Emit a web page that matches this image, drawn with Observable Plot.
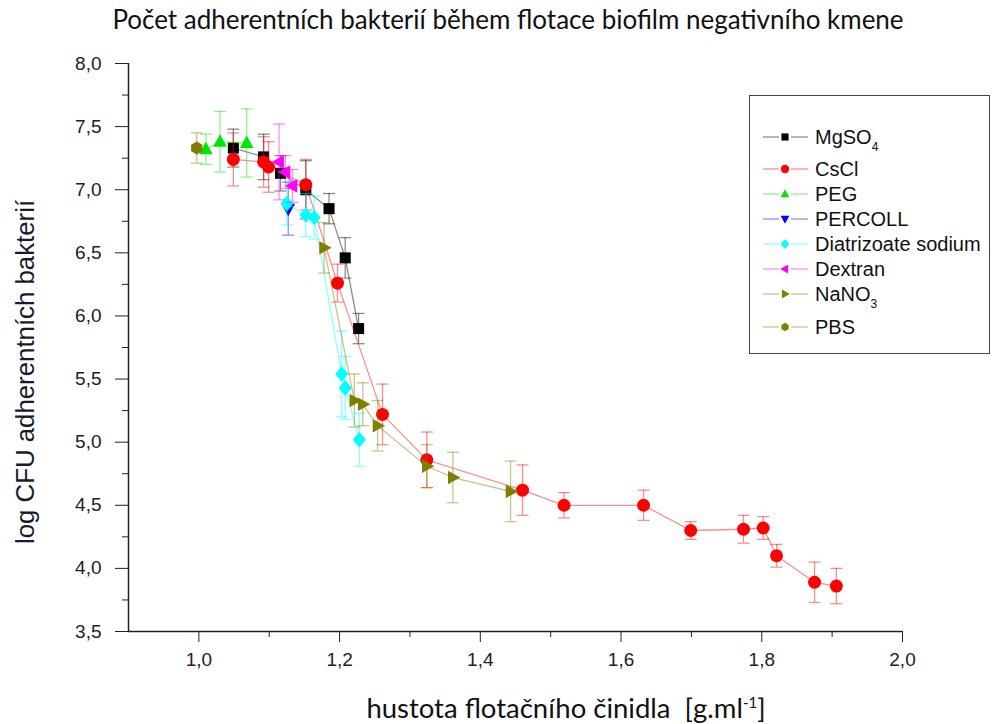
<!DOCTYPE html>
<html><head><meta charset="utf-8">
<script src="https://cdn.jsdelivr.net/npm/d3@7"></script>
<script src="https://cdn.jsdelivr.net/npm/@observablehq/plot@0.6"></script>
<style>
body{margin:0;background:#fff;}
#wrap{position:relative;width:992px;height:724px;overflow:hidden;background:#fff;}
#title{position:absolute;left:0;top:3px;width:1016px;text-align:center;font-family:Lato,sans-serif;font-size:26px;line-height:32px;color:#111;white-space:nowrap;}
#chart{position:absolute;left:0;top:40px;}
#xlabel{position:absolute;left:0;top:691px;width:1132px;text-align:center;font-family:Lato,sans-serif;font-size:27.5px;line-height:34px;color:#111;white-space:nowrap;}
#ylabel{position:absolute;left:25px;top:372px;transform:translate(-50%,-50%) rotate(-90deg);font-family:"Liberation Sans",Arial,sans-serif;font-size:25.8px;color:#1a1a2e;white-space:nowrap;}
#legend{position:absolute;left:749px;top:95px;width:241px;height:259px;border:1.5px solid #444;box-sizing:border-box;font-family:"Liberation Sans",Arial,sans-serif;font-size:20px;color:#111;}
.row{position:absolute;left:0;height:24px;width:236px;}
.row svg{position:absolute;left:12px;top:0;}
.row span{position:absolute;left:65px;top:0px;line-height:24px;white-space:nowrap;}
sub{font-size:12px;vertical-align:-7px;line-height:0;}
sup{font-size:15px;vertical-align:10px;line-height:0;}
</style></head><body>
<div id="wrap">
<div id="title">Počet adherentních bakterií během flotace biofilm negativního kmene</div>
<div id="chart"></div>
<div id="xlabel">hustota flotačního činidla&nbsp;&nbsp;[g.ml<sup>-1</sup>]</div>
<div id="ylabel">log CFU adherentních bakterií</div>
<div id="legend"></div>
</div>
<script>
// ---- data ----
const seriesNames = ["MgSO4","CsCl","PEG","PERCOLL","Diatrizoate sodium","Dextran","NaNO3","PBS"];
const legendLabels = ["MgSO<sub>4</sub>","CsCl","PEG","PERCOLL","Diatrizoate sodium","Dextran","NaNO<sub>3</sub>","PBS"];
const seriesColors = ["#000000","#ff0000","#00e600","#0000ff","#00ffff","#ff00ff","#808000","#808000"];

const mgso4X = [1.049, 1.092, 1.116, 1.152, 1.185, 1.208, 1.227];
const mgso4Y = [7.33, 7.26, 7.13, 7.00, 6.85, 6.46, 5.90];
const mgso4E = [0.15, 0.18, 0.14, 0.23, 0.12, 0.16, 0.12];

const csclX = [1.049, 1.092, 1.099, 1.152, 1.197, 1.261, 1.324, 1.460, 1.519, 1.632, 1.699, 1.774, 1.802, 1.821, 1.875, 1.906];
const csclY = [7.24, 7.22, 7.18, 7.04, 6.26, 5.22, 4.86, 4.62, 4.50, 4.50, 4.30, 4.31, 4.32, 4.10, 3.89, 3.86];
const csclE = [0.21, 0.20, 0.20, 0.20, 0.15, 0.24, 0.22, 0.20, 0.10, 0.12, 0.07, 0.11, 0.09, 0.09, 0.16, 0.14];

const pegX = [1.010, 1.030, 1.068];
const pegY = [7.32, 7.38, 7.37];
const pegE = [0.12, 0.24, 0.27];

const percollX = [1.127];
const percollY = [6.85];
const percollE = [0.21];

const diatrizoateX = [1.125, 1.152, 1.164, 1.203, 1.208, 1.228];
const diatrizoateY = [6.89, 6.80, 6.78, 5.54, 5.43, 5.02];
const diatrizoateE = [0.17, 0.17, 0.17, 0.34, 0.25, 0.21];

const dextranX = [1.114, 1.123, 1.133];
const dextranY = [7.22, 7.14, 7.03];
const dextranE = [0.30, 0.13, 0.13];

const nano3X = [1.178, 1.221, 1.233, 1.254, 1.324, 1.361, 1.443];
const nano3Y = [6.54, 5.33, 5.30, 5.13, 4.81, 4.72, 4.61];
const nano3E = [0.20, 0.21, 0.17, 0.20, 0.17, 0.20, 0.24];

const pbsX = [0.997];
const pbsY = [7.33];
const pbsE = [0.12];

const xTicks = [1.0, 1.2, 1.4, 1.6, 1.8, 2.0];
const xMinorTicks = [1.1, 1.3, 1.5, 1.7, 1.9];
const yTicks = [3.5, 4.0, 4.5, 5.0, 5.5, 6.0, 6.5, 7.0, 7.5, 8.0];
const yMinorTicks = [3.75, 4.25, 4.75, 5.25, 5.75, 6.25, 6.75, 7.25, 7.75];

// ---- symbols ----
const mk = f => ({draw(ctx, size){ const r = Math.sqrt(size / Math.PI); f(ctx, r); }});
const symSquare = mk((c, r) => { const s = r * 0.85; c.moveTo(-s,-s); c.lineTo(s,-s); c.lineTo(s,s); c.lineTo(-s,s); c.closePath(); });
const symCircle = mk((c, r) => { c.moveTo(r,0); c.arc(0,0,r,0,2*Math.PI); c.closePath(); });
const symTriUp = mk((c, r) => { c.moveTo(0,-r*1.15); c.lineTo(r*1.05,r*0.75); c.lineTo(-r*1.05,r*0.75); c.closePath(); });
const symTriDown = mk((c, r) => { c.moveTo(0,r*1.15); c.lineTo(r*1.05,-r*0.75); c.lineTo(-r*1.05,-r*0.75); c.closePath(); });
const symTriLeft = mk((c, r) => { c.moveTo(-r*1.15,0); c.lineTo(r*0.75,-r*1.05); c.lineTo(r*0.75,r*1.05); c.closePath(); });
const symTriRight = mk((c, r) => { c.moveTo(r*1.15,0); c.lineTo(-r*0.75,-r*1.05); c.lineTo(-r*0.75,r*1.05); c.closePath(); });
const symDiamond = mk((c, r) => { c.moveTo(0,-r*1.2); c.lineTo(r*1.0,0); c.lineTo(0,r*1.2); c.lineTo(-r*1.0,0); c.closePath(); });
const symHex = mk((c, r) => { for (let k = 0; k < 6; k++){ const a = Math.PI/180*(-90 + 60*k); const px = r*Math.cos(a), py = r*Math.sin(a); k ? c.lineTo(px,py) : c.moveTo(px,py);} c.closePath(); });
const symCap = mk((c, r) => { c.moveTo(-r,0); c.lineTo(r,0); });
const seriesSymbols = [symSquare, symCircle, symTriUp, symTriDown, symDiamond, symTriLeft, symTriRight, symHex];

const seriesData = [
  [mgso4X, mgso4Y, mgso4E], [csclX, csclY, csclE], [pegX, pegY, pegE], [percollX, percollY, percollE],
  [diatrizoateX, diatrizoateY, diatrizoateE], [dextranX, dextranY, dextranE], [nano3X, nano3Y, nano3E], [pbsX, pbsY, pbsE]
];

const fmt = d => d3.format(".1f")(d).replace(".", ",");

const marks = [
  Plot.axisY(yMinorTicks, {tickSize: 6, tickFormat: () => "", label: null, stroke: "#222"}),
  Plot.axisY(yTicks, {tickSize: 13, tickPadding: 14, tickFormat: fmt, label: null, stroke: "#222"}),
  Plot.axisX(xMinorTicks, {tickSize: 6, tickFormat: () => "", label: null, stroke: "#222"}),
  Plot.axisX(xTicks, {tickSize: 11, tickPadding: 10, tickFormat: fmt, label: null, stroke: "#222"}),
  Plot.ruleX([0.9], {stroke: "#222", strokeWidth: 1.5}),
  Plot.ruleY([3.5], {stroke: "#222", strokeWidth: 1.5})
];

seriesData.forEach(([xs, ys, es], i) => {
  const rows = xs.map((x, j) => ({series: seriesNames[i], x, y: ys[j], e: es[j]}));
  const color = seriesColors[i];
  marks.push(
    Plot.line(rows, {x: "x", y: "y", stroke: color, strokeOpacity: 0.45, strokeWidth: 1.3}),
    Plot.ruleX(rows, {x: "x", y1: d => d.y - d.e, y2: d => d.y + d.e, stroke: color, strokeOpacity: 0.45, strokeWidth: 1.3}),
    Plot.dot(rows, {x: "x", y: d => d.y + d.e, symbol: symCap, r: 6, stroke: color, fill: "none", strokeOpacity: 0.45, strokeWidth: 1.3}),
    Plot.dot(rows, {x: "x", y: d => d.y - d.e, symbol: symCap, r: 6, stroke: color, fill: "none", strokeOpacity: 0.45, strokeWidth: 1.3}),
    Plot.dot(rows, {x: "x", y: "y", symbol: seriesSymbols[i], r: 6.5, fill: color, stroke: "none"})
  );
});

const chart = Plot.plot({
  width: 992, height: 684,
  marginLeft: 128, marginRight: 90, marginTop: 23, marginBottom: 93,
  x: {domain: [0.9, 2.0], label: null},
  y: {domain: [3.5, 8.0], label: null},
  style: {fontFamily: "'Liberation Sans', Arial, sans-serif", fontSize: "19px", color: "#222", background: "white"},
  marks
});
document.getElementById("chart").appendChild(chart);

// ---- legend ----
const legend = document.getElementById("legend");
const rowH = [32, 25, 25, 25, 25, 25, 33, 25];
let cy = 136 - 95;
seriesNames.forEach((name, i) => {
  const row = document.createElement("div");
  row.className = "row";
  row.style.top = (cy - 12) + "px";
  const svg = d3.create("svg").attr("width", 48).attr("height", 24);
  svg.append("line").attr("x1", 1).attr("x2", 17).attr("y1", 12).attr("y2", 12).attr("stroke", seriesColors[i]).attr("stroke-opacity", 0.45).attr("stroke-width", 1.3);
  svg.append("line").attr("x1", 29).attr("x2", 46).attr("y1", 12).attr("y2", 12).attr("stroke", seriesColors[i]).attr("stroke-opacity", 0.45).attr("stroke-width", 1.3);
  svg.append("path").attr("transform", "translate(23,12)").attr("d", d3.symbol().type(seriesSymbols[i]).size(Math.PI * 4.2 * 4.2)()).attr("fill", seriesColors[i]);
  row.appendChild(svg.node());
  const span = document.createElement("span");
  span.innerHTML = legendLabels[i];
  row.appendChild(span);
  legend.appendChild(row);
  cy += rowH[i];
});
</script>
</body></html>
